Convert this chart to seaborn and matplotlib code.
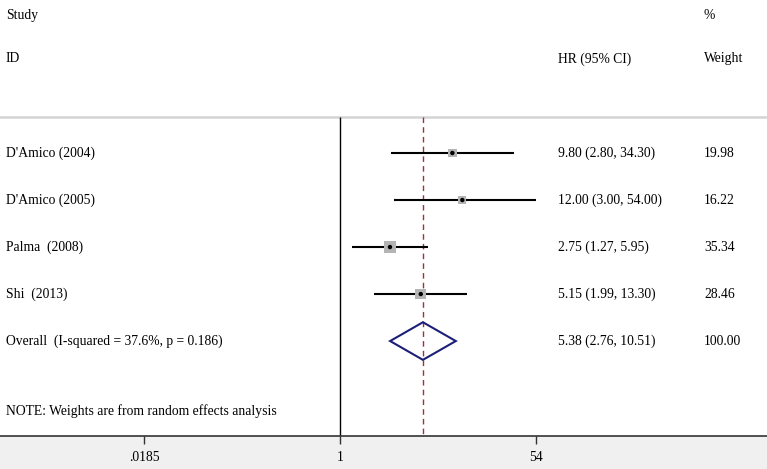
import seaborn as sns
import matplotlib.pyplot as plt
import matplotlib.transforms as mtransforms
import numpy as np
import pandas as pd

# Study data (hazard ratios with 95% CI and random-effects weights)
studies = ["D'Amico (2004)", "D'Amico (2005)", "Palma  (2008)", "Shi  (2013)"]
hr = [9.80, 12.00, 2.75, 5.15]
lower = [2.80, 3.00, 1.27, 1.99]
upper = [34.30, 54.00, 5.95, 13.30]
weights = [19.98, 16.22, 35.34, 28.46]

overall_label = "Overall  (I-squared = 37.6%, p = 0.186)"
overall_hr = 5.38
overall_lower = 2.76
overall_upper = 10.51

xticks = [0.0185, 1, 54]
xticklabels = [".0185", "1", "54"]

df = pd.DataFrame({"study": studies, "hr": hr, "lower": lower,
                   "upper": upper, "weight": weights,
                   "row": np.arange(len(studies))})

sns.set_style("white")
plt.rcParams['font.family'] = ['Liberation Serif', 'DejaVu Serif']
plt.rcParams['text.color'] = 'black'
plt.rcParams['xtick.color'] = 'black'
fs = 9.8

fig = plt.figure(figsize=(7.67, 4.69), dpi=100, facecolor="#f0f0f0")
ax = fig.add_axes([0, 33 / 469, 1, 436 / 469])
ax.set_facecolor("white")
ax.set_xscale("log")
ax.set_xlim(np.exp(-6.93), np.exp(8.69))
ax.set_ylim(6.02, -3.255)

top_line = -0.77
bottom = 6.02
ov_row = len(studies)

# header separator and reference lines
ax.axhline(top_line, color="#d4d4d4", lw=1.8)
ax.vlines(1, top_line, bottom, color="black", lw=1)
ax.vlines(overall_hr, top_line, bottom, color="#a0303a", lw=1,
          linestyles=(0, (4, 3)))

# confidence intervals
ax.hlines(df["row"], df["lower"], df["upper"], color="black", lw=1.5)
# weight boxes
sns.scatterplot(data=df, x="hr", y="row", size="weight", sizes=(32, 75),
                size_norm=(16, 36), marker="s", color="#b4b4b4",
                edgecolor="none", legend=False, ax=ax, zorder=3)
sns.scatterplot(data=df, x="hr", y="row", marker="o", s=10, color="black",
                edgecolor="none", legend=False, ax=ax, zorder=4)

# overall diamond
ax.fill([overall_lower, overall_hr, overall_upper, overall_hr, overall_lower],
        [ov_row, ov_row - 0.4, ov_row, ov_row + 0.4, ov_row],
        facecolor="none", edgecolor="#1c1f78", lw=1.5, zorder=3)

# text columns
tr = mtransforms.blended_transform_factory(ax.transAxes, ax.transData)
x_id, x_hr, x_w = 6 / 767, 558 / 767, 704 / 767
ax.text(x_id, -2.93, "Study", transform=tr, fontsize=fs, va="center")
ax.text(x_w, -2.93, "%", transform=tr, fontsize=fs, va="center")
ax.text(x_id, -2.0, "ID", transform=tr, fontsize=fs, va="center")
ax.text(x_hr, -2.0, "HR (95% CI)", transform=tr, fontsize=fs, va="center")
ax.text(x_w, -2.0, "Weight", transform=tr, fontsize=fs, va="center")

for i in range(len(studies)):
    ax.text(x_id, i, studies[i], transform=tr, fontsize=fs, va="center")
    ax.text(x_hr, i, f"{hr[i]:.2f} ({lower[i]:.2f}, {upper[i]:.2f})",
            transform=tr, fontsize=fs, va="center")
    ax.text(x_w, i, f"{weights[i]:.2f}", transform=tr, fontsize=fs, va="center")

ax.text(x_id, ov_row, overall_label, transform=tr, fontsize=fs, va="center")
ax.text(x_hr, ov_row, f"{overall_hr:.2f} ({overall_lower:.2f}, {overall_upper:.2f})",
        transform=tr, fontsize=fs, va="center")
ax.text(x_w, ov_row, "100.00", transform=tr, fontsize=fs, va="center")
ax.text(x_id, ov_row + 1.5, "NOTE: Weights are from random effects analysis",
        transform=tr, fontsize=fs, va="center")

# axes styling
for s in ["top", "left", "right"]:
    ax.spines[s].set_visible(False)
ax.spines["bottom"].set_color("#333333")
ax.spines["bottom"].set_linewidth(1.2)
ax.set_yticks([])
ax.set_xticks(xticks)
ax.set_xticklabels(xticklabels, fontsize=fs)
ax.xaxis.set_minor_locator(plt.NullLocator())
ax.tick_params(axis="x", direction="out", length=6, width=1, pad=5,
               bottom=True, color="#333333")
ax.set_xlabel("")
ax.set_ylabel("")

plt.savefig("out.png", dpi=100, facecolor=fig.get_facecolor())
